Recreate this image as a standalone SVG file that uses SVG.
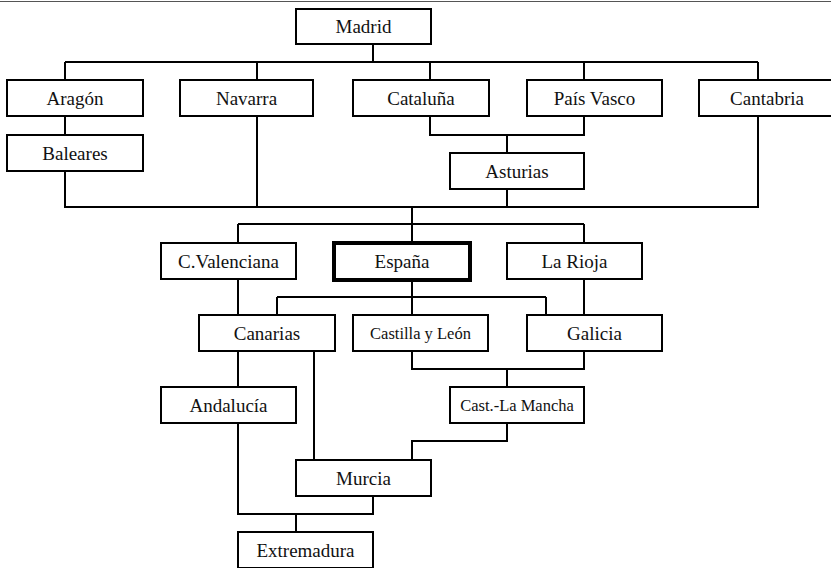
<svg xmlns="http://www.w3.org/2000/svg" width="831" height="568" viewBox="0 0 831 568">
<style>
.box{fill:#fff;stroke:#000;stroke-width:2}
.main{fill:#fff;stroke:#000;stroke-width:4}
text{font-family:'Liberation Serif','Times New Roman',serif;font-size:19px;fill:#111;text-anchor:middle}
text.sm{font-size:16.5px}
.con{fill:none;stroke:#000;stroke-width:2}
</style>
<rect width="831" height="568" fill="#fff"/>
<line x1="0" y1="1.5" x2="831" y2="1.5" stroke="#555" stroke-width="1"/>
<g id="connectors" class="con">
<path d="M373 44V62M65 62H758M65 62V80M257 62V80M430 62V80M584 62V80M758 62V80"/>
<path d="M65 116V135"/>
<path d="M65 171V207H758V116"/>
<path d="M257 116V207"/>
<path d="M430 116V135H584V116M507 135V153M507 189V207"/>
<path d="M412 207V224M238 224H584M238 224V243M412 224V243M584 224V243"/>
<path d="M412 280V297M277 297H546M277 297V315M412 297V315M546 297V315"/>
<path d="M238 279V315M584 279V315"/>
<path d="M412 351V369H584V351M507 369V387"/>
<path d="M238 351V387M314 351V460"/>
<path d="M507 423V441H412V460"/>
<path d="M238 423V514H373V496M296 514V532"/>
</g>
<g id="madrid"><rect class="box" x="296" y="9" width="135" height="35"/><text x="363.5" y="33">Madrid</text></g>
<g id="aragon"><rect class="box" x="7" y="80" width="136" height="36"/><text x="75" y="105">Aragón</text></g>
<g id="navarra"><rect class="box" x="180" y="80" width="133" height="36"/><text x="246.5" y="105">Navarra</text></g>
<g id="cataluna"><rect class="box" x="353" y="80" width="136" height="36"/><text x="421" y="105">Cataluña</text></g>
<g id="paisvasco"><rect class="box" x="527" y="80" width="135" height="36"/><text x="594.5" y="105">País Vasco</text></g>
<g id="cantabria"><rect class="box" x="699" y="80" width="136" height="36"/><text x="767" y="105">Cantabria</text></g>
<g id="baleares"><rect class="box" x="7" y="135" width="136" height="36"/><text x="75" y="160">Baleares</text></g>
<g id="asturias"><rect class="box" x="450" y="153" width="134" height="36"/><text x="517" y="178">Asturias</text></g>
<g id="cvalenciana"><rect class="box" x="161" y="243" width="135" height="36"/><text x="228.5" y="268">C.Valenciana</text></g>
<g id="espana"><rect class="main" x="334" y="243" width="136" height="37"/><text x="402" y="268">España</text></g>
<g id="larioja"><rect class="box" x="507" y="243" width="135" height="36"/><text x="574.5" y="268">La Rioja</text></g>
<g id="canarias"><rect class="box" x="199" y="315" width="136" height="36"/><text x="267" y="340">Canarias</text></g>
<g id="castillaleon"><rect class="box" x="353" y="315" width="135" height="36"/><text class="sm" x="420.5" y="339">Castilla y León</text></g>
<g id="galicia"><rect class="box" x="527" y="315" width="135" height="36"/><text x="594.5" y="340">Galicia</text></g>
<g id="andalucia"><rect class="box" x="161" y="387" width="135" height="36"/><text x="228.5" y="412">Andalucía</text></g>
<g id="castlamancha"><rect class="box" x="450" y="387" width="134" height="36"/><text class="sm" x="517" y="411">Cast.-La Mancha</text></g>
<g id="murcia"><rect class="box" x="296" y="460" width="135" height="36"/><text x="363.5" y="485">Murcia</text></g>
<g id="extremadura"><rect class="box" x="238" y="532" width="135" height="36"/><text x="305.5" y="557">Extremadura</text></g>
</svg>
